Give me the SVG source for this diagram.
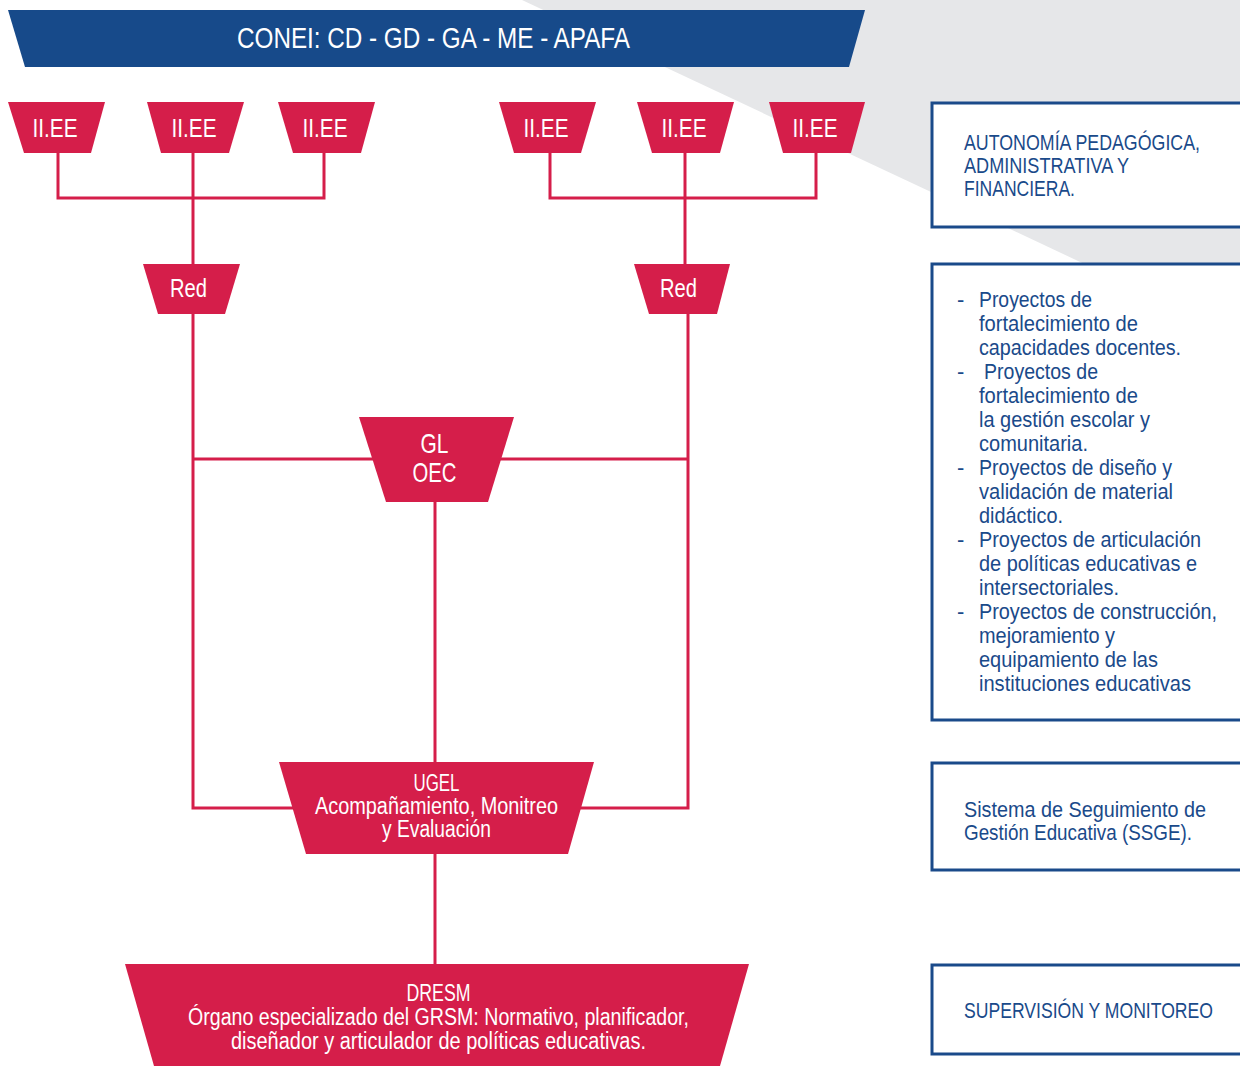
<svg xmlns="http://www.w3.org/2000/svg" width="1240" height="1066" viewBox="0 0 1240 1066">
<defs>
<style>
.n{fill:#d51e4a}
.nt{fill:#fff;font-family:"Liberation Sans",Arial,sans-serif;text-anchor:middle}
.c{fill:none;stroke:#d51e4a;stroke-width:3}
.bx{fill:#fff;stroke:#1a4a8a;stroke-width:3}
.bt{fill:#1a4a8a;font-family:"Liberation Sans",Arial,sans-serif;font-size:22px}
</style>
</defs>
<rect width="1240" height="1066" fill="#fff"/>
<polygon points="522,0 1240,0 1240,337" fill="#e6e7e9"/>
<g id="conei">
<polygon points="8,10 865,10 849,67 25,67" fill="#174a8a"/>
<text class="nt" x="433.5" y="48" font-size="30" textLength="393" lengthAdjust="spacingAndGlyphs">CONEI: CD - GD - GA - ME - APAFA</text>
</g>
<g id="connectors">
<path class="c" d="M58,153 V198 H324 V153"/>
<path class="c" d="M193,153 V264"/>
<path class="c" d="M550,153 V198 H816 V153"/>
<path class="c" d="M685,153 V264"/>
<path class="c" d="M193,314 V808 H300"/>
<path class="c" d="M688,314 V808 H575"/>
<path class="c" d="M193,459 H688"/>
<path class="c" d="M435,502 V762"/>
<path class="c" d="M435,854 V964"/>
</g>
<g id="iiee1"><polygon class="n" points="8,102 105,102 91,153 24,153"/><text class="nt" x="55" y="137" font-size="26" textLength="45" lengthAdjust="spacingAndGlyphs">II.EE</text></g>
<g id="iiee2"><polygon class="n" points="147,102 244,102 229,153 161,153"/><text class="nt" x="194" y="137" font-size="26" textLength="45" lengthAdjust="spacingAndGlyphs">II.EE</text></g>
<g id="iiee3"><polygon class="n" points="278,102 375,102 361,153 293,153"/><text class="nt" x="325" y="137" font-size="26" textLength="45" lengthAdjust="spacingAndGlyphs">II.EE</text></g>
<g id="iiee4"><polygon class="n" points="499,102 596,102 581,153 514,153"/><text class="nt" x="546" y="137" font-size="26" textLength="45" lengthAdjust="spacingAndGlyphs">II.EE</text></g>
<g id="iiee5"><polygon class="n" points="637,102 734,102 720,153 652,153"/><text class="nt" x="684" y="137" font-size="26" textLength="45" lengthAdjust="spacingAndGlyphs">II.EE</text></g>
<g id="iiee6"><polygon class="n" points="769,102 865,102 851,153 783,153"/><text class="nt" x="815" y="137" font-size="26" textLength="45" lengthAdjust="spacingAndGlyphs">II.EE</text></g>
<g id="red1"><polygon class="n" points="143,264 240,264 225,314 158,314"/><text class="nt" x="188.5" y="297" font-size="26" textLength="37" lengthAdjust="spacingAndGlyphs">Red</text></g>
<g id="red2"><polygon class="n" points="634,264 730,264 717,314 649,314"/><text class="nt" x="678.5" y="297" font-size="26" textLength="37" lengthAdjust="spacingAndGlyphs">Red</text></g>
<g id="gl"><polygon class="n" points="359,417 514,417 488,502 386,502"/>
<text class="nt" x="434.5" y="453" font-size="28" textLength="28" lengthAdjust="spacingAndGlyphs">GL</text>
<text class="nt" x="434.5" y="482" font-size="28" textLength="44" lengthAdjust="spacingAndGlyphs">OEC</text></g>
<g id="ugel"><polygon class="n" points="279,762 594,762 568,854 306,854"/>
<text class="nt" x="436.5" y="791" font-size="23" textLength="46" lengthAdjust="spacingAndGlyphs">UGEL</text>
<text class="nt" x="436.5" y="814" font-size="23" textLength="243" lengthAdjust="spacingAndGlyphs">Acompañamiento, Monitreo</text>
<text class="nt" x="436.5" y="837" font-size="23" textLength="109" lengthAdjust="spacingAndGlyphs">y Evaluación</text></g>
<g id="dresm"><polygon class="n" points="125,964 749,964 720,1066 154,1066"/>
<text class="nt" x="438.5" y="1001" font-size="23" textLength="64" lengthAdjust="spacingAndGlyphs">DRESM</text>
<text class="nt" x="438.5" y="1025" font-size="23" textLength="501" lengthAdjust="spacingAndGlyphs">Órgano especializado del GRSM: Normativo, planificador,</text>
<text class="nt" x="438.5" y="1049" font-size="23" textLength="415" lengthAdjust="spacingAndGlyphs">diseñador y articulador de políticas educativas.</text></g>
<g id="box1"><rect class="bx" x="932" y="103" width="320" height="124"/>
<text class="bt" x="964" y="150" textLength="236" lengthAdjust="spacingAndGlyphs">AUTONOMÍA PEDAGÓGICA,</text>
<text class="bt" x="964" y="173" textLength="165" lengthAdjust="spacingAndGlyphs">ADMINISTRATIVA Y</text>
<text class="bt" x="964" y="196" textLength="111" lengthAdjust="spacingAndGlyphs">FINANCIERA.</text></g>
<g id="box2"><rect class="bx" x="932" y="264" width="320" height="456"/>
<text class="bt" x="957" y="307">-</text><text class="bt" x="979" y="307" textLength="113" lengthAdjust="spacingAndGlyphs">Proyectos de</text>
<text class="bt" x="979" y="331" textLength="159" lengthAdjust="spacingAndGlyphs">fortalecimiento de</text>
<text class="bt" x="979" y="355" textLength="202" lengthAdjust="spacingAndGlyphs">capacidades docentes.</text>
<text class="bt" x="957" y="379">-</text><text class="bt" x="984" y="379" textLength="114" lengthAdjust="spacingAndGlyphs">Proyectos de</text>
<text class="bt" x="979" y="403" textLength="159" lengthAdjust="spacingAndGlyphs">fortalecimiento de</text>
<text class="bt" x="979" y="427" textLength="171" lengthAdjust="spacingAndGlyphs">la gestión escolar y</text>
<text class="bt" x="979" y="451" textLength="109" lengthAdjust="spacingAndGlyphs">comunitaria.</text>
<text class="bt" x="957" y="475">-</text><text class="bt" x="979" y="475" textLength="193" lengthAdjust="spacingAndGlyphs">Proyectos de diseño y</text>
<text class="bt" x="979" y="499" textLength="194" lengthAdjust="spacingAndGlyphs">validación de material</text>
<text class="bt" x="979" y="523" textLength="84" lengthAdjust="spacingAndGlyphs">didáctico.</text>
<text class="bt" x="957" y="547">-</text><text class="bt" x="979" y="547" textLength="222" lengthAdjust="spacingAndGlyphs">Proyectos de articulación</text>
<text class="bt" x="979" y="571" textLength="218" lengthAdjust="spacingAndGlyphs">de políticas educativas e</text>
<text class="bt" x="979" y="595" textLength="140" lengthAdjust="spacingAndGlyphs">intersectoriales.</text>
<text class="bt" x="957" y="619">-</text><text class="bt" x="979" y="619" textLength="238" lengthAdjust="spacingAndGlyphs">Proyectos de construcción,</text>
<text class="bt" x="979" y="643" textLength="136" lengthAdjust="spacingAndGlyphs">mejoramiento y</text>
<text class="bt" x="979" y="667" textLength="179" lengthAdjust="spacingAndGlyphs">equipamiento de las</text>
<text class="bt" x="979" y="691" textLength="212" lengthAdjust="spacingAndGlyphs">instituciones educativas</text></g>
<g id="box3"><rect class="bx" x="932" y="763" width="320" height="107"/>
<text class="bt" x="964" y="817" textLength="242" lengthAdjust="spacingAndGlyphs">Sistema de Seguimiento de</text>
<text class="bt" x="964" y="840" textLength="228" lengthAdjust="spacingAndGlyphs">Gestión Educativa (SSGE).</text></g>
<g id="box4"><rect class="bx" x="932" y="965" width="320" height="89"/>
<text class="bt" x="964" y="1018" textLength="249" lengthAdjust="spacingAndGlyphs">SUPERVISIÓN Y MONITOREO</text></g>
</svg>
